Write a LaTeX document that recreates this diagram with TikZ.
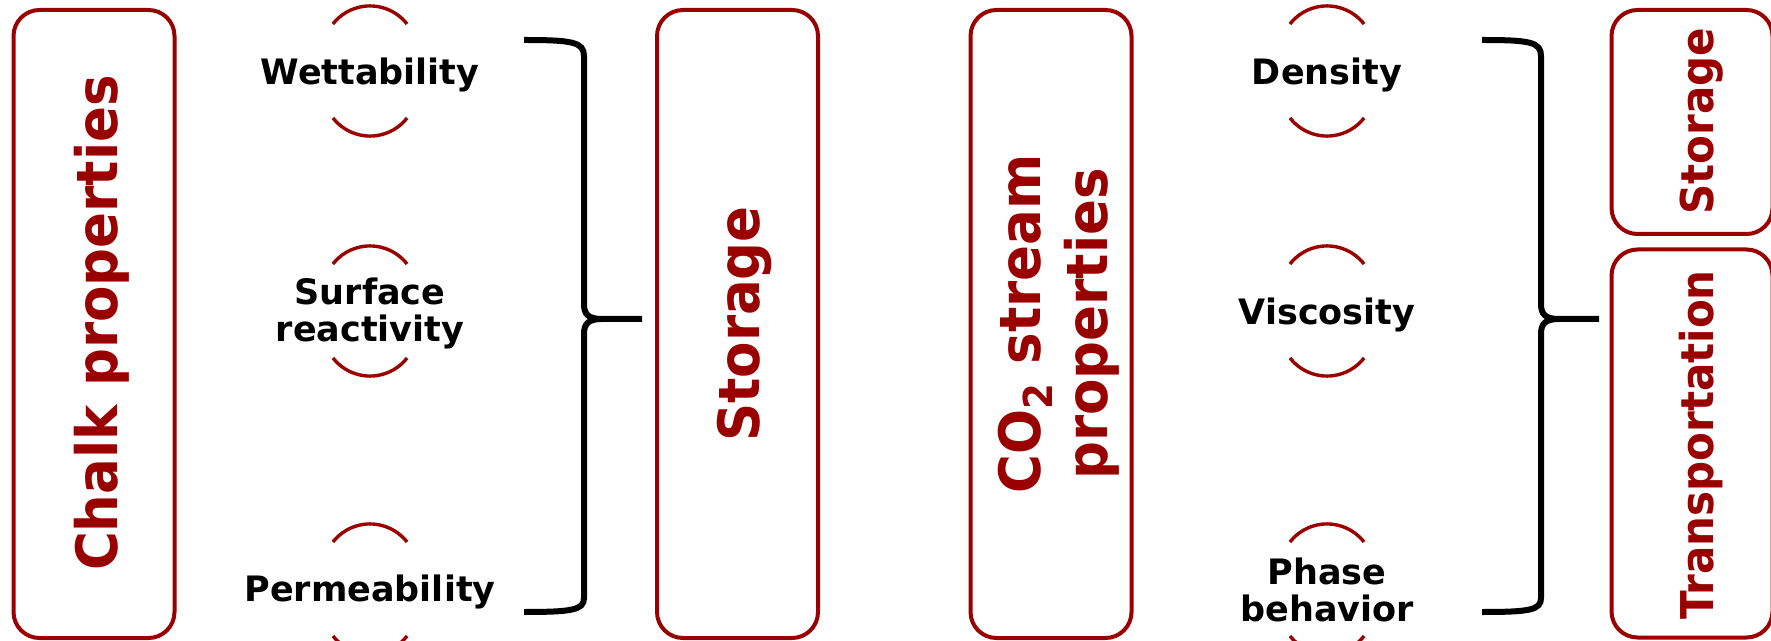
\documentclass[tikz,border=0pt]{standalone}
\usepackage{fontspec}
\setmainfont{DejaVu Sans}
\newfontfamily\tallfont{DejaVu Sans}[FakeStretch=0.93]
\usepackage{tikz}
\usetikzlibrary{positioning}
\definecolor{chalkRed}{RGB}{153,0,0}

\begin{document}
\begin{tikzpicture}[
    x=0.5pt, y=0.5pt,
    every node/.style={align=center, inner sep=0pt},
    pillar/.style={draw=chalkRed, line width=2pt, rounded corners=13pt, minimum width=80.5pt},
    bigtext/.style={rotate=90, anchor=base, text=chalkRed,
      font=\tallfont\fontsize{28.5}{33.5}\selectfont\bfseries},
    smalltext/.style={bigtext, font=\tallfont\fontsize{22.6}{26}\selectfont\bfseries},
    item/.style={font=\fontsize{17.5}{18.5}\selectfont\bfseries},
    ring/.style={draw=chalkRed, line width=1.7pt},
    brace/.style={draw=black, line width=3pt}
  ]
    \useasboundingbox (0,0) rectangle (1771,-641);
    % property columns
    \node[pillar, minimum height=314pt] (chalk) at (94,-324) {};
    \node[pillar, minimum height=314pt] (store) at (737.5,-324) {};
    \node[pillar, minimum height=314pt] (co2) at (1051,-324) {};
    \node[pillar, minimum height=112pt] (store2) at (1692,-122) {};
    \node[pillar, minimum height=194pt] (trans) at (1692,-443.5) {};
    \node[bigtext] (chalklbl) at (117,-323) {Chalk properties};
    \node[bigtext] (storelbl) at (759,-324) {Storage};
    \node[bigtext] (co2lbl) at (1107,-324) {CO\textsubscript{2} stream\\properties};
    \node[smalltext] (store2lbl) at (1713,-121) {Storage};
    \node[smalltext] (translbl) at (1713,-445) {Transportation};
    % labels
    \node[item] (wet) at (370,-75) {Wettability};
    \node[item] (surf) at (370,-313) {Surface\\reactivity};
    \node[item] (perm) at (370,-592) {Permeability};
    \node[item] (dens) at (1327,-75) {Density};
    \node[item] (visc) at (1327,-315) {Viscosity};
    \node[item] (phase) at (1327,-590) {Phase\\behavior};
    % arcs round the labels
    \foreach \cx/\cy in {370/-71, 370/-311, 370/-589, 1327/-71, 1327/-311, 1327/-589} {
      \draw[ring] (\cx+37,\cy+47) arc[start angle=38, end angle=142, radius=23.5pt];
      \draw[ring] (\cx-37,\cy-47) arc[start angle=218, end angle=322, radius=23.5pt];
    }
    % braces
    \coordinate (tip1) at (642,-319);
    \coordinate (tip2) at (1599,-319);
    \draw[brace] (524,-40) .. controls (572,-40) and (584,-42) .. (584,-56) -- (584,-304)
      .. controls (584,-314) and (588,-319) .. (602,-319) -- (tip1);
    \draw[brace] (602,-319) .. controls (588,-319) and (584,-324) .. (584,-334) -- (584,-598)
      .. controls (584,-610) and (572,-612) .. (524,-612);
    \draw[brace] (1482,-40) .. controls (1530,-40) and (1541,-42) .. (1541,-56) -- (1541,-304)
      .. controls (1541,-314) and (1545,-319) .. (1559,-319) -- (tip2);
    \draw[brace] (1559,-319) .. controls (1545,-319) and (1541,-324) .. (1541,-334) -- (1541,-598)
      .. controls (1541,-610) and (1530,-612) .. (1482,-612);
\end{tikzpicture}
\end{document}
